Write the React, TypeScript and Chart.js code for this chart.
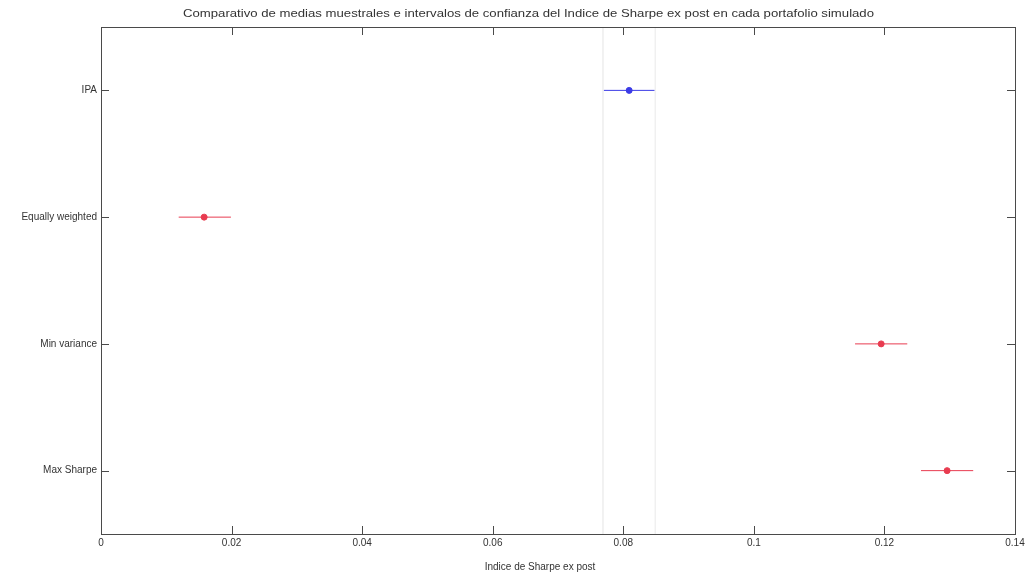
import React, { useEffect, useRef } from "react";
import { Chart, registerables } from "chart.js";

Chart.register(...registerables);

const categories = ["IPA", "Equally weighted", "Min variance", "Max Sharpe"];
const means = [0.0809, 0.0158, 0.1195, 0.1296];
const lower = [0.0769, 0.0119, 0.1155, 0.1256];
const upper = [0.0849, 0.0199, 0.1235, 0.1336];
const seriesColors = ["rgb(60,60,230)", "rgb(232,60,80)", "rgb(232,60,80)", "rgb(232,60,80)"];
const xTicks = [0, 0.02, 0.04, 0.06, 0.08, 0.1, 0.12, 0.14];
const titleText =
  "Comparativo de medias muestrales e intervalos de confianza del Indice de Sharpe ex post en cada portafolio simulado";
const xLabel = "Indice de Sharpe ex post";

const FONT = "'Liberation Sans', Arial, sans-serif";

const boxPlugin = {
  id: "matlabBox",
  afterDraw(chart: any) {
    const { ctx, chartArea } = chart;
    const xs = chart.scales.x;
    const ys = chart.scales.y;
    const { left, right, top, bottom } = chartArea;
    ctx.save();
    ctx.strokeStyle = "#4a4a4a";
    ctx.lineWidth = 1;
    ctx.strokeRect(Math.round(left) + 0.5, Math.round(top) + 0.5, Math.round(right - left), Math.round(bottom - top));
    const tl = 8;
    ctx.beginPath();
    xTicks.forEach((v) => {
      const px = Math.round(xs.getPixelForValue(v)) + 0.5;
      ctx.moveTo(px, bottom);
      ctx.lineTo(px, bottom - tl);
      ctx.moveTo(px, top);
      ctx.lineTo(px, top + tl);
    });
    categories.forEach((_, i) => {
      const py = Math.round(ys.getPixelForValue(i + 1)) + 0.5;
      ctx.moveTo(left, py);
      ctx.lineTo(left + tl, py);
      ctx.moveTo(right, py);
      ctx.lineTo(right - tl, py);
    });
    ctx.stroke();

    ctx.fillStyle = "#333";
    ctx.textBaseline = "middle";
    // title stretched horizontally to span the same width as in the reference
    ctx.font = `11px ${FONT}`;
    const target = 691;
    const w0 = ctx.measureText(titleText).width;
    const sx = target / w0;
    ctx.save();
    ctx.translate(183, 14);
    ctx.scale(sx, 1);
    ctx.textAlign = "left";
    ctx.fillText(titleText, 0, 0);
    ctx.restore();

    ctx.font = `10px ${FONT}`;
    ctx.textAlign = "center";
    ctx.fillText(xLabel, 540, 567);
    ctx.restore();
  },
};

export default function App() {
  const ref = useRef<HTMLCanvasElement>(null);
  useEffect(() => {
    document.body.style.margin = "0";
    const datasets: any[] = [];
    [lower[0], upper[0]].forEach((v) => {
      datasets.push({
        data: [
          { x: v, y: 0.5 },
          { x: v, y: 4.5 },
        ],
        showLine: true,
        borderColor: "#f0f0f0",
        borderWidth: 1,
        pointRadius: 0,
      });
    });
    categories.forEach((_, i) => {
      datasets.push({
        data: [
          { x: lower[i], y: i + 1 },
          { x: upper[i], y: i + 1 },
        ],
        showLine: true,
        borderColor: seriesColors[i],
        borderWidth: 1,
        pointRadius: 0,
      });
    });
    datasets.push({
      data: means.map((m, i) => ({ x: m, y: i + 1 })),
      showLine: false,
      pointRadius: 3,
      pointBackgroundColor: seriesColors,
      pointBorderColor: seriesColors,
    });
    const chart = new Chart(ref.current!, {
      type: "scatter",
      data: { datasets },
      options: {
        animation: false,
        responsive: true,
        maintainAspectRatio: false,
        layout: { padding: { top: 27, right: 14, bottom: 0, left: 0 } },
        plugins: { legend: { display: false }, tooltip: { enabled: false }, title: { display: false } },
        scales: {
          x: {
            type: "linear",
            min: 0,
            max: 0.14,
            grid: { display: false, drawTicks: false },
            border: { display: false },
            afterFit(s: any) {
              s.height = 46;
            },
            afterBuildTicks(s: any) {
              s.ticks = xTicks.map((v) => ({ value: v }));
            },
            ticks: {
              padding: 3,
              color: "#333",
              font: { family: FONT, size: 10 },
              maxRotation: 0,
              callback: (v: any) => String(Number(Number(v).toFixed(2))),
            },
          },
          y: {
            type: "linear",
            min: 0.5,
            max: 4.5,
            reverse: true,
            grid: { display: false, drawTicks: false },
            border: { display: false },
            afterFit(s: any) {
              s.width = 101;
            },
            afterBuildTicks(s: any) {
              s.ticks = categories.map((_, i) => ({ value: i + 1 }));
            },
            ticks: {
              padding: 4,
              color: "#333",
              font: { family: FONT, size: 10 },
              callback: (v: any) => categories[Math.round(Number(v)) - 1] ?? "",
            },
          },
        },
      },
      plugins: [boxPlugin],
    });
    return () => chart.destroy();
  }, []);
  return (
    <div style={{ position: "fixed", left: 0, top: 0, width: 1029, height: 580, background: "#fff" }}>
      <canvas ref={ref} />
    </div>
  );
}
